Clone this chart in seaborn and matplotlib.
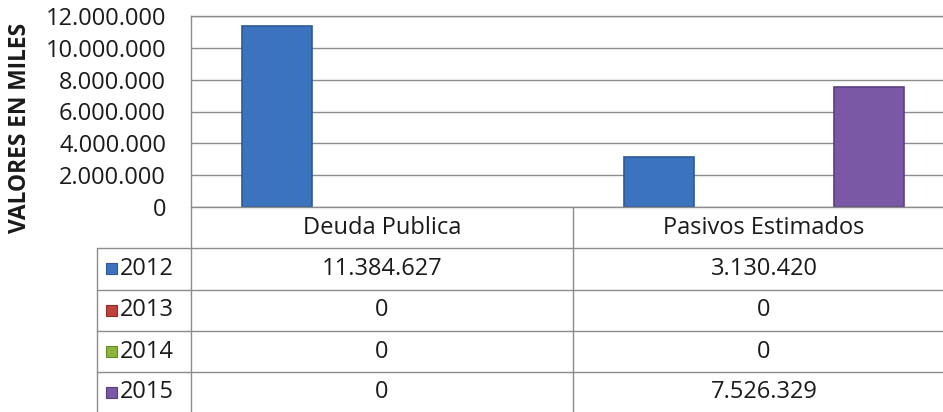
import matplotlib
matplotlib.use("Agg")
import matplotlib.pyplot as plt
import matplotlib.transforms as mtransforms
from matplotlib.patches import Rectangle
import pandas as pd
import seaborn as sns

categories = ["Deuda Publica", "Pasivos Estimados"]
years = ["2012", "2013", "2014", "2015"]
v2012 = [11384627, 3130420]
v2013 = [0, 0]
v2014 = [0, 0]
v2015 = [0, 7526329]
yticks = [0, 2000000, 4000000, 6000000, 8000000, 10000000, 12000000]

COLORS = {"2012": "#3B73BE", "2013": "#C0403C", "2014": "#8DB43E", "2015": "#7A58A6"}
EDGES = {"2012": "#2C5A98", "2013": "#8E2A27", "2014": "#668A28", "2015": "#5A3F80"}
GRID = "#8C8C8C"
TXT = "#1A1A1A"


def fmt(v):
    return f"{v:,}".replace(",", ".")


series = {"2012": v2012, "2013": v2013, "2014": v2014, "2015": v2015}
df = pd.DataFrame(
    [(c, y, vals[i]) for y, vals in series.items() for i, c in enumerate(categories)],
    columns=["categoria", "anio", "valor"],
)

sns.set_style("white")
plt.rcParams["font.family"] = ["Open Sans", "DejaVu Sans"]
plt.rcParams["font.size"] = 17

W, H = 943, 412
fig = plt.figure(figsize=(W / 100, H / 100), dpi=100)

# plot area in pixels: x 191 -> 955 (past the right edge), y 16 -> 207
ax = fig.add_axes([191 / W, (H - 207) / H, 764 / W, (207 - 16) / H])
sns.barplot(
    data=df, x="categoria", y="valor", hue="anio", order=categories,
    hue_order=years, palette=COLORS, width=0.733, gap=0, legend=False,
    saturation=1, ax=ax,
)
for bars, y in zip(ax.containers, years):
    for b in bars:
        b.set_edgecolor(EDGES[y])
        b.set_linewidth(1.2 if b.get_height() > 0 else 0)

ax.set_ylim(0, 12000000)
ax.set_yticks(yticks)
ax.set_yticklabels([fmt(t) for t in yticks], color=TXT)
ax.tick_params(axis="y", length=0, pad=18)
ax.set_xticks([])
ax.set_xlabel("")
ax.set_ylabel("VALORES EN MILES", fontweight="bold", fontsize=16.4, color=TXT)
ax.yaxis.set_label_coords(-0.208, 0.416)
ax.yaxis.grid(True, color=GRID, linewidth=1.0)
ax.set_axisbelow(True)
for side in ["left", "bottom", "top"]:
    ax.spines[side].set_color(GRID)
    ax.spines[side].set_linewidth(1.0)
ax.spines["right"].set_visible(False)

# data table underneath, in pixel coords
tab = fig.add_axes([0, 0, 1, 1], zorder=-1)
tab.set_xlim(0, W)
tab.set_ylim(H, 0)
tab.axis("off")
blend = mtransforms.blended_transform_factory(ax.transData, tab.transData)

rows = [207, 248, 289.5, 331, 372, 413]
for yl in rows[1:-1]:
    tab.plot([97, W], [yl, yl], color=GRID, lw=1.0)
tab.plot([97, 97], [rows[1], H], color=GRID, lw=1.0)
tab.plot([191, 191], [rows[0], H], color=GRID, lw=1.0)
tab.plot([0.5, 0.5], [rows[0], H], color=GRID, lw=1.0, transform=blend)

header_y = (rows[0] + rows[1]) / 2
for i, c in enumerate(categories):
    tab.text(i, header_y, c, ha="center", va="center", color=TXT,
             transform=blend)

for r, y in enumerate(years):
    cy = (rows[r + 1] + rows[r + 2]) / 2
    tab.add_patch(Rectangle((106, cy - 5.5), 11, 11, facecolor=COLORS[y],
                            edgecolor=EDGES[y], lw=0.8))
    tab.text(120, cy, y, ha="left", va="center", color=TXT)
    for i, v in enumerate(series[y]):
        tab.text(i, cy, fmt(v), ha="center", va="center", color=TXT,
                 transform=blend)

fig.savefig("out.png", dpi=100)
